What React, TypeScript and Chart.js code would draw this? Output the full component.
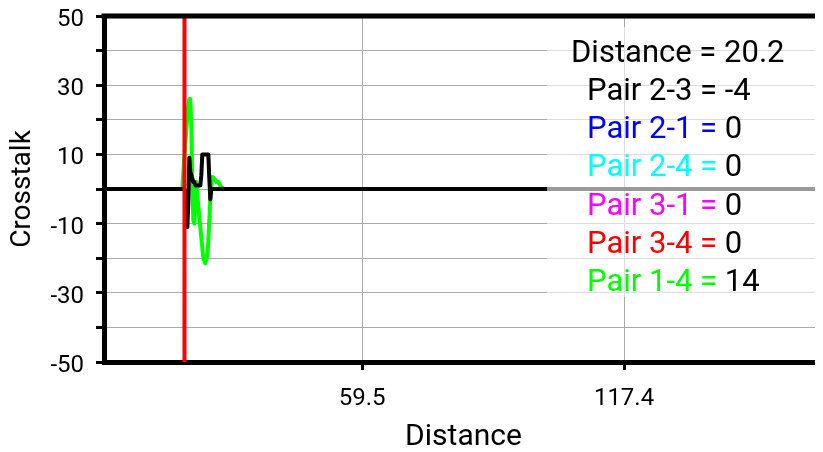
import { useEffect, useRef } from "react";
import { Chart, registerables } from "chart.js";

Chart.register(...registerables);

// Axis ranges and ticks
const X_MIN = 2.4;
const X_MAX = 161.4;
const X_TICKS = [59.5, 117.4];
const Y_MIN = -50;
const Y_MAX = 50;
const Y_STEP = 10;
const Y_LABELED = [50, 30, 10, -10, -30, -50];

// Cursor
const CURSOR = 20.2;

// Sampled distances (shared by Pair 2-3 and Pair 1-4)
const DIST = [
  2.4, 19.72, 20.16, 20.6, 20.83, 21.05, 21.27, 21.49, 21.71, 21.93, 22.15,
  22.37, 22.6, 22.82, 23.26, 23.7, 23.92, 24.14, 24.36, 24.8, 25.25, 25.47,
  25.69, 25.91, 26.13, 26.35, 26.8, 27.24, 27.68, 28.12, 28.78, 161.4,
];
// Pair 2-3 (black)
const PAIR_23 = [
  0, 0, 0, -2, -11, -4, 9, 5, 4, 3, 2,
  2, 1, 1, 1, 1, 4, 10, 10, 10, 10, 10,
  3, -3, 0, 0, 0, 0, 0, 0, 0, 0,
];
// Pair 1-4 (green)
const PAIR_14 = [
  0, 0, 9, 17, 21, 24, 26, 26, 18, 2, -9,
  -10, -3, 2, -5, -11, -14, -17, -20, -21.5, -19, -15,
  -9, -3, 1, 3.5, 3, 2, 2, 1, 0, 0,
];

// Read-out box
const READ_LABELS = ["Pair 2-3", "Pair 2-1", "Pair 2-4", "Pair 3-1", "Pair 3-4", "Pair 1-4"];
const READ_VALUES = [-4, 0, 0, 0, 0, 14];
const READ_COLORS = ["#000000", "#0000ff", "#00ffff", "#ff00ff", "#ff0000", "#00ff00"];

const FONT = "Roboto";

function pts(xs: number[], ys: number[]) {
  return xs.map((x, i) => ({ x, y: ys[i] }));
}

const overlayPlugin = {
  id: "overlay",
  afterDatasetsDraw(chart: any) {
    const { ctx, chartArea, scales } = chart;
    const { left, right, top, bottom } = chartArea;
    ctx.save();
    // cursor
    const cx = scales.x.getPixelForValue(CURSOR);
    ctx.strokeStyle = "#ff0000";
    ctx.lineWidth = 4;
    ctx.beginPath();
    ctx.moveTo(cx, top);
    ctx.lineTo(cx, bottom);
    ctx.stroke();
    // translucent box
    ctx.fillStyle = "rgba(255,255,255,0.6)";
    ctx.fillRect(539, 19, right - 539, 270);
    // top border
    ctx.strokeStyle = "#000000";
    ctx.lineWidth = 5;
    ctx.beginPath();
    ctx.moveTo(left - 2.5, top);
    ctx.lineTo(right, top);
    ctx.stroke();
    // read-out text
    ctx.font = `31px ${FONT}`;
    ctx.textBaseline = "alphabetic";
    ctx.textAlign = "left";
    ctx.fillStyle = "#000000";
    ctx.fillText(`Distance = ${CURSOR}`, 563, 54);
    READ_LABELS.forEach((lab, i) => {
      const y = 92 + i * 38.2;
      const s = `${lab} = `;
      ctx.fillStyle = READ_COLORS[i];
      ctx.fillText(s, 579, y);
      const w = ctx.measureText(s).width;
      ctx.fillStyle = "#000000";
      ctx.fillText(String(READ_VALUES[i]), 579 + w, y);
    });
    ctx.restore();
  },
};

export default function App() {
  const ref = useRef<HTMLCanvasElement | null>(null);
  useEffect(() => {
    if (!ref.current) return;
    const gridCommon = {
      color: "#ababab",
      lineWidth: 1,
      tickLength: 8,
      tickWidth: 3,
      tickColor: "#000000",
    };
    const chart = new Chart(ref.current, {
      type: "line",
      data: {
        datasets: [
          { label: "Pair 1-4", data: pts(DIST.slice(0, -1), PAIR_14.slice(0, -1)), borderColor: "#00ff00", order: 1, borderWidth: 4 },
          { label: "Pair 2-3", data: pts(DIST, PAIR_23), borderColor: "#000000", order: 0, borderWidth: 4 },
        ].map((d) => ({
          ...d,
          pointRadius: 0,
          tension: 0,
          fill: false,
          borderJoinStyle: "round" as const,
        })),
      },
      options: {
        animation: false,
        responsive: false,
        devicePixelRatio: 1,
        layout: { padding: { top: 8, right: 0, bottom: 0, left: 0 } },
        plugins: { legend: { display: false }, tooltip: { enabled: false } },
        scales: {
          x: {
            type: "linear",
            position: "bottom",
            min: X_MIN,
            max: X_MAX,
            afterBuildTicks: (s: any) => {
              s.ticks = X_TICKS.map((v) => ({ value: v }));
            },
            afterFit: (s: any) => {
              s.height = 90;
              s.paddingLeft = 0;
              s.paddingRight = 0;
            },
            ticks: {
              autoSkip: false,
              maxRotation: 0,
              color: "#000000",
              padding: 15,
              font: { family: FONT, size: 24 },
              callback: (v: any) => String(v),
            },
            grid: gridCommon,
            border: { color: "#000000", width: 5 },
            title: {
              display: true,
              text: "Distance",
              color: "#000000",
              font: { family: FONT, size: 30, lineHeight: 1 },
              padding: { top: 0, bottom: 0 },
            },
          },
          y: {
            type: "linear",
            min: Y_MIN,
            max: Y_MAX,
            afterFit: (s: any) => {
              s.width = 96;
              s.paddingTop = 0;
              s.paddingBottom = 0;
            },
            ticks: {
              stepSize: Y_STEP,
              autoSkip: false,
              color: "#000000",
              padding: 12,
              labelOffset: 4,
              font: { family: FONT, size: 24 },
              callback: (v: any) => (Y_LABELED.includes(Number(v)) ? String(v) : ""),
            },
            grid: gridCommon,
            border: { color: "#000000", width: 5 },
            title: {
              display: true,
              text: "Crosstalk",
              color: "#000000",
              font: { family: FONT, size: 28, lineHeight: 1 },
              padding: { top: 1, bottom: 0 },
            },
          },
        },
      },
      plugins: [overlayPlugin],
    });
    return () => chart.destroy();
  }, []);
  return (
    <div style={{ width: 815, height: 444 }}>
      <canvas ref={ref} width={815} height={444} style={{ display: "block" }} />
    </div>
  );
}
